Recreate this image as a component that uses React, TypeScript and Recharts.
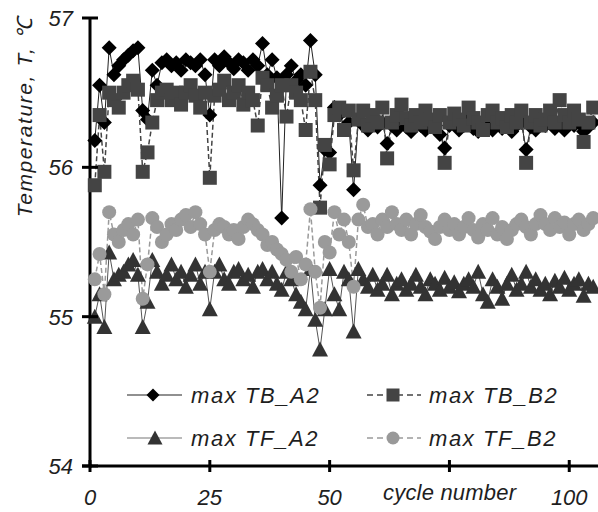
import React from "react";
import { LineChart, Line, XAxis, YAxis } from "recharts";

// max temperature per cycle
const tbA2 = [
  56.18, 56.55, 56.3, 56.8, 56.62, 56.68, 56.72, 56.75, 56.78, 56.8,
  56.38, 56.32, 56.65, 56.55, 56.7, 56.72, 56.68, 56.7, 56.65, 56.72,
  56.7, 56.68, 56.72, 56.62, 56.35, 56.72, 56.68, 56.74, 56.7, 56.66,
  56.72, 56.7, 56.65, 56.72, 56.68, 56.83, 56.62, 56.72, 56.6, 55.66,
  56.62, 56.68, 56.58, 56.62, 56.55, 56.85, 56.62, 55.88, 56.12, 56.1,
  56.4, 56.35, 56.38, 56.3, 55.85,
  56.32, 56.28, 56.25, 56.3, 56.27, 56.3, 56.16, 56.28, 56.25, 56.32,
  56.27, 56.24, 56.3, 56.28, 56.25, 56.3, 56.27, 56.22, 56.13, 56.28,
  56.3, 56.25, 56.28, 56.32, 56.26, 56.24, 56.3, 56.27, 56.25, 56.29,
  56.26, 56.3, 56.24, 56.28, 56.3, 56.12, 56.27, 56.25, 56.3, 56.28,
  56.32, 56.26, 56.29, 56.25, 56.33, 56.28, 56.3, 56.24, 56.27, 56.3,
];

const tbB2 = [
  55.88, 56.35, 55.97, 56.5, 56.45, 56.4, 56.5, 56.55, 56.58, 56.52,
  55.97, 56.1, 56.3, 56.45, 56.5, 56.52, 56.45, 56.5, 56.42, 56.5,
  56.55, 56.48, 56.4, 56.5, 55.93, 56.48, 56.52, 56.58, 56.45, 56.5,
  56.55, 56.42, 56.5, 56.45, 56.28, 56.6, 56.55, 56.4, 56.48, 56.55,
  56.34, 56.55, 56.5, 56.45, 56.25, 56.64, 56.45, 55.73, 56.15, 56.02,
  56.35, 56.4, 56.25, 56.38, 55.98,
  56.32, 56.38, 56.28, 56.35, 56.3, 56.4, 56.06, 56.3, 56.35, 56.42,
  56.33, 56.28, 56.35, 56.3, 56.38, 56.32, 56.27, 56.35, 56.03, 56.3,
  56.36, 56.32, 56.28, 56.4, 56.33, 56.3, 56.25, 56.35, 56.38, 56.3,
  56.33, 56.27, 56.35, 56.3, 56.38, 56.03, 56.3, 56.35, 56.28, 56.32,
  56.38, 56.3, 56.45, 56.35, 56.3, 56.38, 56.32, 56.17, 56.3, 56.4,
];

const tfA2 = [
  55.0, 55.15, 54.93, 55.43, 55.25, 55.28, 55.3, 55.35, 55.38, 55.28,
  54.93, 55.1, 55.38, 55.3, 55.22, 55.28, 55.35, 55.25, 55.3, 55.2,
  55.28, 55.35, 55.22, 55.3, 55.05, 55.3, 55.35, 55.25, 55.22, 55.3,
  55.32, 55.25, 55.28, 55.2, 55.3, 55.32, 55.25, 55.3, 55.22, 55.18,
  55.3, 55.25, 55.15, 55.1, 55.05, 55.32, 54.98, 54.78, 55.05, 55.32,
  55.15, 55.05, 55.3, 55.25, 54.9,
  55.32, 55.25, 55.2, 55.28, 55.18, 55.22, 55.28, 55.15, 55.22, 55.25,
  55.18, 55.22, 55.28, 55.2, 55.15, 55.25, 55.22, 55.18, 55.26, 55.2,
  55.23, 55.17, 55.22, 55.25, 55.2, 55.3, 55.15, 55.1, 55.25, 55.2,
  55.12, 55.22, 55.28, 55.18, 55.22, 55.3, 55.2, 55.25, 55.18, 55.22,
  55.15, 55.24, 55.2, 55.26, 55.18, 55.22, 55.25, 55.14, 55.22, 55.2,
];

const tfB2 = [
  55.25, 55.42, 55.15, 55.7, 55.55, 55.5, 55.58, 55.62, 55.55, 55.65,
  55.12, 55.35, 55.66, 55.6, 55.5, 55.55, 55.62, 55.58, 55.65, 55.68,
  55.6, 55.7, 55.62, 55.55, 55.3, 55.58, 55.62, 55.6, 55.55, 55.58,
  55.52, 55.6, 55.65, 55.62, 55.58, 55.55, 55.48, 55.5, 55.45, 55.42,
  55.38, 55.3, 55.4, 55.25, 55.35, 55.72, 55.3, 55.06, 55.5, 55.43,
  55.7, 55.55, 55.65, 55.5, 55.2,
  55.65, 55.75, 55.6, 55.62, 55.55, 55.65, 55.6, 55.7, 55.62, 55.58,
  55.65, 55.55, 55.62, 55.68, 55.6, 55.57, 55.52, 55.6, 55.65, 55.58,
  55.62, 55.55, 55.6, 55.66, 55.58, 55.53, 55.62, 55.58, 55.66, 55.55,
  55.6, 55.52, 55.58, 55.62, 55.65, 55.6, 55.55, 55.62, 55.68, 55.62,
  55.58, 55.66, 55.6, 55.63, 55.55, 55.62, 55.65, 55.58, 55.62, 55.66,
];

const xTicks = [0, 25, 50, 75, 100];
const yTicks = [54, 55, 56, 57];

const data = tbA2.map((v, i) => ({
  cycle: i + 1,
  tbA2: v,
  tbB2: tbB2[i],
  tfA2: tfA2[i],
  tfB2: tfB2[i],
}));

const FONT = "'Liberation Sans', Arial, sans-serif";
const TEXT = "#1e1e1e";

const Diamond = ({ cx, cy, s = 7.5, fill = "#000" }: any) => (
  <polygon points={`${cx},${cy - s} ${cx + s},${cy} ${cx},${cy + s} ${cx - s},${cy}`} fill={fill} />
);
const Square = ({ cx, cy, s = 7, fill = "#444" }: any) => (
  <rect x={cx - s} y={cy - s} width={s * 2} height={s * 2} fill={fill} />
);
const Triangle = ({ cx, cy, s = 8, fill = "#333" }: any) => (
  <polygon points={`${cx},${cy - s} ${cx + s},${cy + s - 1} ${cx - s},${cy + s - 1}`} fill={fill} />
);
const Circle = ({ cx, cy, r = 7, fill = "#999" }: any) => <circle cx={cx} cy={cy} r={r} fill={fill} />;

const dot = (Shape: any, fill: string) => (p: any) =>
  p.cx == null ? <g key={`e-${p.index}`} /> : <Shape key={`d-${p.index}`} cx={p.cx} cy={p.cy} fill={fill} />;

const XTick = ({ x, y, payload }: any) => (
  <g>
    <line x1={x} x2={x} y1={y - 6} y2={y + 6} stroke="#000" strokeWidth={3} />
    {payload.value !== 75 && (
      <text x={x} y={y + 39} textAnchor="middle" fontSize={22} fontStyle="italic" fontFamily={FONT} fill={TEXT}>
        {payload.value}
      </text>
    )}
  </g>
);

const YTick = ({ x, y, payload }: any) => (
  <g>
    <line x1={x - 8} x2={x + 8} y1={y} y2={y} stroke="#000" strokeWidth={3} />
    <text x={x - 17} y={y + 8} textAnchor="end" fontSize={22} fontStyle="italic" fontFamily={FONT} fill={TEXT}>
      {payload.value}
    </text>
  </g>
);

const legendText = { fontSize: 22, fontStyle: "italic", fontFamily: FONT, fill: TEXT, letterSpacing: 1.6 } as const;

export default function App() {
  return (
    <div style={{ position: "absolute", left: 0, top: 0, width: 598, height: 512, background: "#fff" }}>
      <LineChart width={598} height={512} data={data} margin={{ top: 18, right: 0, bottom: 16, left: 0 }}>
        <XAxis
          type="number"
          dataKey="cycle"
          domain={[0, 106]}
          ticks={xTicks}
          height={30}
          tickSize={0}
          tickMargin={0}
          tickLine={false}
          axisLine={{ stroke: "#000", strokeWidth: 3 }}
          tick={<XTick />}
        />
        <YAxis
          domain={[54, 57]}
          ticks={yTicks}
          width={90}
          tickSize={0}
          tickMargin={0}
          tickLine={false}
          axisLine={{ stroke: "#000", strokeWidth: 3 }}
          tick={<YTick />}
        />
        <Line dataKey="tbA2" stroke="#222" strokeWidth={1} dot={dot(Diamond, "#000")} isAnimationActive={false} />
        <Line dataKey="tbB2" stroke="#444" strokeWidth={1.5} strokeDasharray="5 3" dot={dot(Square, "#444")} isAnimationActive={false} />
        <Line dataKey="tfA2" stroke="#555" strokeWidth={1} dot={dot(Triangle, "#333")} isAnimationActive={false} />
        <Line dataKey="tfB2" stroke="#9a9a9a" strokeWidth={1.5} strokeDasharray="5 3" dot={dot(Circle, "#9a9a9a")} isAnimationActive={false} />
      </LineChart>
      <svg width={598} height={512} style={{ position: "absolute", left: 0, top: 0, pointerEvents: "none" }}>
        <line x1={82} x2={92} y1={466} y2={466} stroke="#000" strokeWidth={3} />
        <text
          transform="translate(32,117) rotate(-90)"
          textAnchor="middle"
          fontSize={21}
          fontStyle="italic"
          fontFamily={FONT}
          fill={TEXT}
          letterSpacing={1.6}
        >
          Temperature, T, ℃
        </text>
        <text x={383} y={500} fontSize={22} fontStyle="italic" fontFamily={FONT} fill={TEXT} letterSpacing={0.2}>
          cycle number
        </text>
        {/* legend */}
        <line x1={127} x2={182} y1={395} y2={395} stroke="#222" strokeWidth={1.2} />
        <Diamond cx={153} cy={395} s={6.5} />
        <text x={191} y={403} {...legendText}>max TB_A2</text>
        <line x1={367} x2={421} y1={395} y2={395} stroke="#444" strokeWidth={1.5} strokeDasharray="6 4" />
        <Square cx={393} cy={395} s={6.5} />
        <text x={429} y={403} {...legendText}>max TB_B2</text>
        <line x1={127} x2={182} y1={438} y2={438} stroke="#777" strokeWidth={1.2} />
        <Triangle cx={155} cy={438} s={7.5} />
        <text x={191} y={446} {...legendText}>max TF_A2</text>
        <line x1={367} x2={421} y1={438} y2={438} stroke="#9a9a9a" strokeWidth={1.5} strokeDasharray="6 4" />
        <Circle cx={393} cy={438} r={6.5} />
        <text x={429} y={446} {...legendText}>max TF_B2</text>
      </svg>
    </div>
  );
}
